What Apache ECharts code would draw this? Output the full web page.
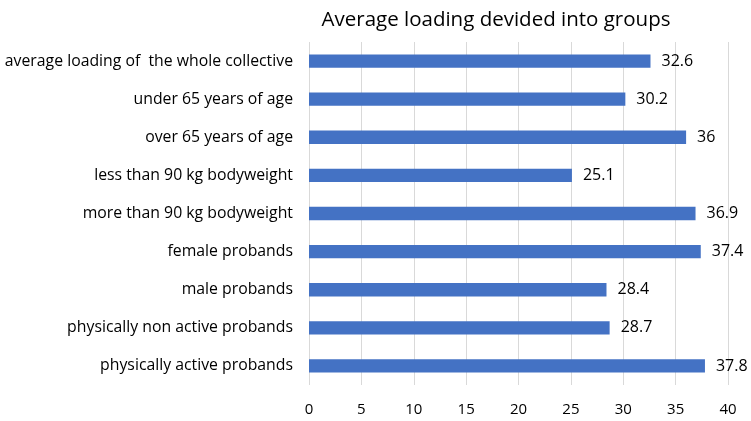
<!DOCTYPE html>
<html><head><meta charset="utf-8">
<script src="https://cdn.jsdelivr.net/npm/echarts@6/dist/echarts.min.js"></script>
<style>html,body{margin:0;padding:0;background:#fff}#c{width:751px;height:421px}</style>
</head><body><div id="c"></div>
<script>
const categories = [
  "average loading of  the whole collective",
  "under 65 years of age",
  "over 65 years of age",
  "less than 90 kg bodyweight",
  "more than 90 kg bodyweight",
  "female probands",
  "male probands",
  "physically non active probands",
  "physically active probands"
];
const values = [32.6, 30.2, 36, 25.1, 36.9, 37.4, 28.4, 28.7, 37.8];
const xTicks = [0, 5, 10, 15, 20, 25, 30, 35, 40];
const titleText = "Average loading devided into groups";

const chart = echarts.init(document.getElementById('c'));
const font = "'Open Sans', 'Noto Sans', sans-serif";
chart.setOption({
  animation: false,
  title: {
    text: titleText, left: 491, top: 5, textAlign: 'center',
    textStyle: { fontFamily: font, fontSize: 20.5, fontWeight: 'normal', color: '#000' }
  },
  grid: { left: 309, right: 23, top: 42, bottom: 36, outerBoundsMode: 'none', containLabel: false },
  xAxis: {
    type: 'value', min: xTicks[0], max: xTicks[xTicks.length - 1], interval: 5,
    axisLine: { show: false }, axisTick: { show: false },
    axisLabel: { fontFamily: font, fontSize: 15, color: '#000', margin: 17 },
    splitLine: { lineStyle: { color: '#d9d9d9', width: 1 } }
  },
  yAxis: {
    type: 'category', data: categories.slice().reverse(),
    axisLine: { show: false }, axisTick: { show: false },
    axisLabel: { fontFamily: font, fontSize: 15.8, color: '#000', margin: 16 }
  },
  series: [{
    type: 'bar', data: values.slice().reverse(), barWidth: '35%',
    itemStyle: { color: '#4472C4' },
    label: { show: true, position: 'right', distance: 11, fontFamily: font, fontSize: 16, color: '#000' }
  }]
});
</script></body></html>
